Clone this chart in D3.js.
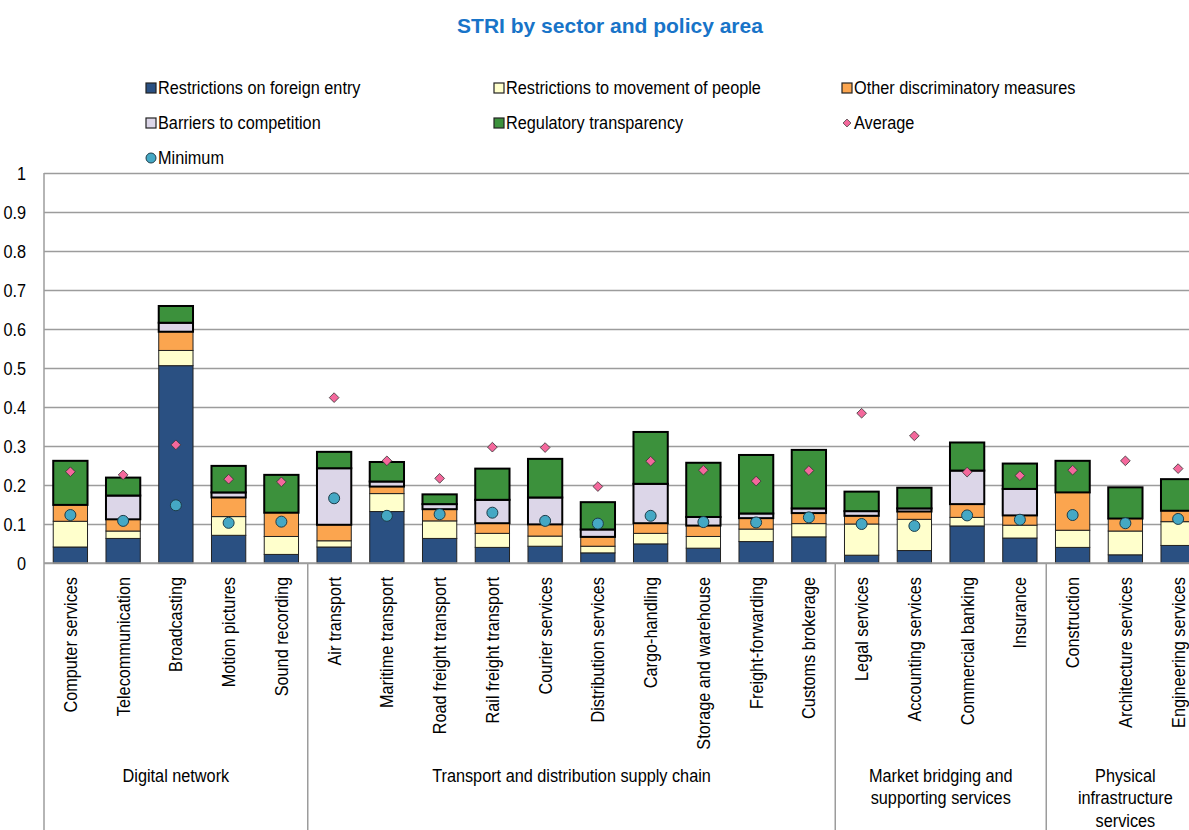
<!DOCTYPE html>
<html>
<head>
<meta charset="utf-8">
<script src="https://cdn.jsdelivr.net/npm/d3@7"></script>
<style>
    body { margin: 0; background: #fff; }
    text { font-family: "Liberation Sans", Arial, sans-serif; fill: #000; }
</style>
</head>
<body>
<div id="chart"></div>
<script>
// Chart data
let categories = ["Computer services", "Telecommunication", "Broadcasting", "Motion pictures", "Sound recording",
    "Air transport", "Maritime transport", "Road freight transport", "Rail freight transport", "Courier services",
    "Distribution services", "Cargo-handling", "Storage and warehouse", "Freight-forwarding", "Customs brokerage",
    "Legal services", "Accounting services", "Commercial banking", "Insurance",
    "Construction", "Architecture services", "Engineering services"];
let groupNames = [["Digital network"], ["Transport and distribution supply chain"],
    ["Market bridging and", "supporting services"], ["Physical", "infrastructure", "services"]];
let groupSizes = [5, 10, 4, 3];

let seriesNames = ["Restrictions on foreign entry", "Restrictions to movement of people", "Other discriminatory measures",
    "Barriers to competition", "Regulatory transparency"];
let foreignEntry = [0.041, 0.063, 0.506, 0.071, 0.022, 0.041, 0.132, 0.063, 0.040, 0.043, 0.026, 0.049, 0.038, 0.055, 0.067,
    0.020, 0.032, 0.095, 0.064, 0.040, 0.021, 0.045];
let movementPeople = [0.066, 0.019, 0.039, 0.048, 0.046, 0.016, 0.046, 0.045, 0.036, 0.026, 0.017, 0.027, 0.030, 0.032, 0.034,
    0.080, 0.080, 0.022, 0.033, 0.044, 0.061, 0.061];
let otherDiscrim = [0.042, 0.030, 0.048, 0.049, 0.061, 0.041, 0.018, 0.030, 0.026, 0.030, 0.024, 0.026, 0.028, 0.028, 0.027,
    0.021, 0.020, 0.034, 0.025, 0.097, 0.032, 0.028];
let barriersComp = [0, 0.061, 0.023, 0.013, 0, 0.145, 0.013, 0.013, 0.060, 0.069, 0.019, 0.101, 0.022, 0.012, 0.012,
    0.012, 0.008, 0.086, 0.068, 0, 0, 0];
let regTransparency = [0.113, 0.046, 0.043, 0.068, 0.097, 0.042, 0.050, 0.025, 0.080, 0.099, 0.070, 0.133, 0.139, 0.150, 0.150,
    0.050, 0.053, 0.072, 0.065, 0.081, 0.080, 0.081];
let average = [0.234, 0.226, 0.303, 0.215, 0.208, 0.424, 0.262, 0.217, 0.297, 0.296, 0.196, 0.261, 0.238, 0.210, 0.237,
    0.384, 0.326, 0.233, 0.224, 0.238, 0.262, 0.242];
let minimum = [0.123, 0.108, 0.148, 0.103, 0.106, 0.166, 0.121, 0.125, 0.129, 0.108, 0.101, 0.121, 0.105, 0.104, 0.117,
    0.100, 0.095, 0.122, 0.111, 0.123, 0.102, 0.113];
let yTicks = [0, 0.1, 0.2, 0.3, 0.4, 0.5, 0.6, 0.7, 0.8, 0.9, 1];

// Set up conventions
let width = 1189;
let height = 830;
let plotLeft = 44;
let plotTop = 173;
let plotBottom = 563;
let step = 52.75;
let fontSize = "18.5px";
let sx = 0.88; // narrow look for the labels

let colors = ["#2a5082", "#ffffcc", "#fba54f", "#dcd6e8", "#3c913c"];
let strokeW = [1, 1, 1, 2, 2];

let series = [foreignEntry, movementPeople, otherDiscrim, barriersComp, regTransparency];
let table = categories.map((c, i) => {
    let row = {category: c};
    seriesNames.forEach((s, j) => row[s] = series[j][i]);
    return row;
});

let svg = d3.select("#chart")
    .append("svg")
    .attr("width", width)
    .attr("height", height);

let xScale = d3.scaleBand()
    .domain(categories)
    .range([plotLeft, plotLeft + step * categories.length])
    .paddingInner(0.35)
    .paddingOuter(0.175);

let yScale = d3.scaleLinear()
    .domain([0, 1])
    .range([plotBottom, plotTop]);

// Title
svg.append("text")
    .attr("x", 610)
    .attr("y", 33)
    .attr("text-anchor", "middle")
    .style("font-weight", "bold")
    .style("font-size", "21px")
    .style("fill", "#1874c8")
    .text("STRI by sector and policy area");

// Gridlines and y axis labels
let yAxis = d3.axisLeft(yScale)
    .tickValues(yTicks)
    .tickFormat(d3.format("~g"))
    .tickSizeInner(-(width - plotLeft))
    .tickSizeOuter(0)
    .tickPadding(18);

let yg = svg.append("g")
    .attr("transform", "translate(" + plotLeft + ",0)")
    .call(yAxis);
yg.select(".domain").remove();
yg.selectAll("line").attr("stroke", "#9c9c9c").attr("stroke-width", 1.5);
yg.selectAll("text")
    .attr("x", -18 / sx)
    .attr("dy", "0.35em")
    .attr("transform", "scale(" + sx + ",1)")
    .style("font-size", fontSize);

// Stacked bars
let stack = d3.stack().keys(seriesNames)(table);

stack.forEach((layer, j) => {
    svg.append("g")
        .selectAll("rect")
        .data(layer.filter(d => d[1] - d[0] > 0))
        .enter()
        .append("rect")
        .attr("x", d => xScale(d.data.category))
        .attr("width", xScale.bandwidth())
        .attr("y", d => yScale(d[1]))
        .attr("height", d => yScale(d[0]) - yScale(d[1]))
        .attr("fill", colors[j])
        .attr("stroke", j < 3 ? "#222" : "#000")
        .attr("stroke-width", strokeW[j]);
});

// Average and minimum markers
let diamond = d3.symbol().type(d3.symbolDiamond2).size(60);
svg.append("g")
    .selectAll("path")
    .data(average)
    .enter()
    .append("path")
    .attr("d", diamond)
    .attr("transform", (d, i) => "translate(" + (xScale(categories[i]) + xScale.bandwidth() / 2) + "," + yScale(d) + ")")
    .attr("fill", "#f4689c")
    .attr("stroke", "#333")
    .attr("stroke-width", 0.8);

svg.append("g")
    .selectAll("circle")
    .data(minimum)
    .enter()
    .append("circle")
    .attr("cx", (d, i) => xScale(categories[i]) + xScale.bandwidth() / 2)
    .attr("cy", d => yScale(d))
    .attr("r", 5.5)
    .attr("fill", "#45a8c4")
    .attr("stroke", "#1d3d4a")
    .attr("stroke-width", 1);

// x axis with category labels
let xAxis = d3.axisBottom(xScale).tickSize(0).tickPadding(0);
let xg = svg.append("g")
    .attr("transform", "translate(0," + plotBottom + ")")
    .call(xAxis);
xg.select(".domain").remove();
xg.selectAll("text")
    .attr("transform", "rotate(-90) scale(" + sx + ",1)")
    .attr("text-anchor", "end")
    .attr("x", -14 / sx)
    .attr("y", 0)
    .attr("dy", "0.35em")
    .style("font-size", fontSize);

svg.append("line")
    .attr("x1", plotLeft).attr("x2", width)
    .attr("y1", plotBottom).attr("y2", plotBottom)
    .attr("stroke", "#9c9c9c").attr("stroke-width", 1.5);

// Group separators and labels
let start = 0;
groupSizes.forEach((n, g) => {
    let x0 = xScale.range()[0] + step * start;
    let x1 = x0 + step * n;
    svg.append("line")
        .attr("x1", x0).attr("x2", x0)
        .attr("y1", g == 0 ? plotTop : plotBottom).attr("y2", height)
        .attr("stroke", "#9c9c9c").attr("stroke-width", 1.5);
    let t = svg.append("text")
        .attr("transform", "translate(" + ((x0 + x1) / 2) + ",0) scale(" + sx + ",1)")
        .attr("text-anchor", "middle")
        .style("font-size", fontSize);
    groupNames[g].forEach((s, k) => {
        t.append("tspan").attr("x", 0).attr("y", 782 + k * 22.5).text(s);
    });
    start += n;
});

// Legend
let legendItems = seriesNames.map((s, i) => ({name: s, type: "rect", color: colors[i]}));
legendItems.push({name: "Average", type: "diamond", color: "#f4689c"});
legendItems.push({name: "Minimum", type: "circle", color: "#45a8c4"});

let legend = svg.append("g")
    .selectAll("g")
    .data(legendItems)
    .enter()
    .append("g")
    .attr("transform", (d, i) => "translate(" + (146 + (i % 3) * 348) + "," + (88 + Math.floor(i / 3) * 35) + ")");

legend.filter(d => d.type == "rect")
    .append("rect")
    .attr("x", 0).attr("y", -5)
    .attr("width", 10).attr("height", 10)
    .attr("fill", d => d.color)
    .attr("stroke", "#222")
    .attr("stroke-width", 1.2);
legend.filter(d => d.type == "diamond")
    .append("path")
    .attr("d", d3.symbol().type(d3.symbolDiamond2).size(40))
    .attr("transform", "translate(5,0)")
    .attr("fill", d => d.color)
    .attr("stroke", "#333")
    .attr("stroke-width", 0.7);
legend.filter(d => d.type == "circle")
    .append("circle")
    .attr("cx", 5).attr("r", 5)
    .attr("fill", d => d.color)
    .attr("stroke", "#1d3d4a")
    .attr("stroke-width", 1);
legend.append("text")
    .attr("x", 12 / sx)
    .attr("dy", "0.35em")
    .attr("transform", "scale(" + sx + ",1)")
    .style("font-size", fontSize)
    .text(d => d.name);
</script>
</body>
</html>
